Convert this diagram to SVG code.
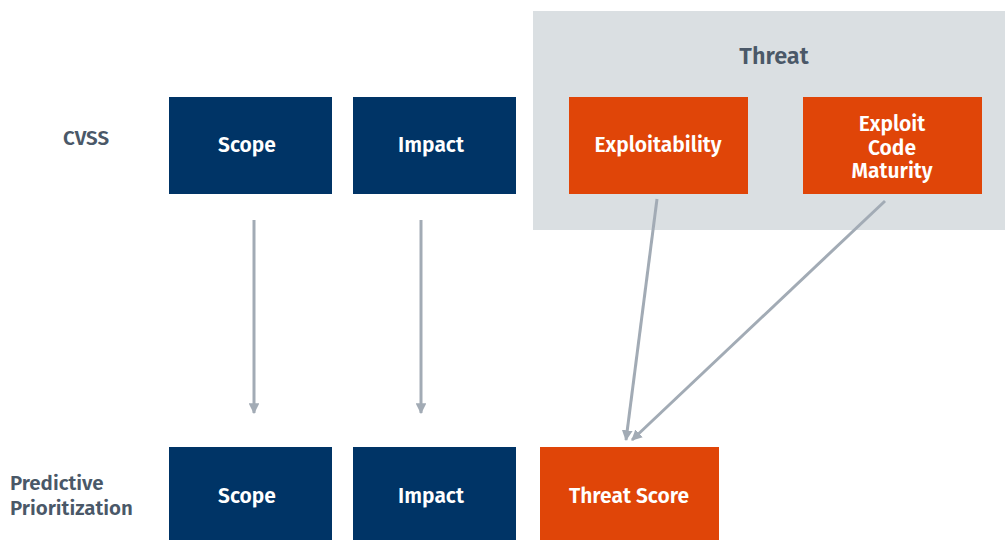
<svg xmlns="http://www.w3.org/2000/svg" width="1005" height="540" viewBox="0 0 1005 540">
<defs>
<style>
.navy{fill:#003466}
.orange{fill:#e04508}
.lbl{font-family:"Fira Sans","Open Sans","Noto Sans",sans-serif;font-weight:600;font-size:21px;fill:#ffffff;text-anchor:middle}
.side{font-family:"Fira Sans","Open Sans","Noto Sans",sans-serif;font-weight:600;font-size:20.5px;fill:#4a5868}
.conn{stroke:#a2abb5;stroke-width:3;fill:none}
</style>
<marker id="ah" viewBox="0 0 10 10" refX="9" refY="5" markerWidth="3.6" markerHeight="3.6" orient="auto" markerUnits="strokeWidth">
<path d="M0,0 L10,5 L0,10 z" fill="#a2abb5"/>
</marker>
</defs>
<rect width="1005" height="540" fill="#ffffff"/>
<g id="threat-group">
<rect x="533" y="11" width="472" height="219" fill="#dadfe2"/>
<text x="774" y="64" class="side" style="font-size:23.5px;text-anchor:middle">Threat</text>
</g>
<g id="label-cvss"><text x="63" y="145" class="side">CVSS</text></g>
<g id="label-pp"><text x="10" y="490" class="side">Predictive</text><text x="10" y="515" class="side">Prioritization</text></g>
<g id="cvss-scope"><rect x="169" y="97" width="163" height="97" class="navy"/><text x="247" y="152" class="lbl">Scope</text></g>
<g id="cvss-impact"><rect x="353" y="97" width="163" height="97" class="navy"/><text x="431" y="152" class="lbl">Impact</text></g>
<g id="exploitability"><rect x="569" y="97" width="179" height="97" class="orange"/><text x="658" y="152" class="lbl">Exploitability</text></g>
<g id="exploit-code-maturity"><rect x="803" y="97" width="179" height="97" class="orange"/><text x="892" y="131" class="lbl">Exploit</text><text x="892" y="154.5" class="lbl">Code</text><text x="892" y="178" class="lbl">Maturity</text></g>
<g id="pp-scope"><rect x="169" y="447" width="163" height="93" class="navy"/><text x="247" y="503" class="lbl">Scope</text></g>
<g id="pp-impact"><rect x="353" y="447" width="163" height="93" class="navy"/><text x="431" y="503" class="lbl">Impact</text></g>
<g id="threat-score"><rect x="540" y="447" width="179" height="93" class="orange"/><text x="629" y="503" class="lbl">Threat Score</text></g>
<g id="connectors">
<line x1="254" y1="220" x2="254" y2="413" class="conn" marker-end="url(#ah)"/>
<line x1="421" y1="220" x2="421" y2="413" class="conn" marker-end="url(#ah)"/>
<line x1="657" y1="199" x2="626" y2="440" class="conn" marker-end="url(#ah)"/>
<line x1="885" y1="201" x2="632" y2="440" class="conn" marker-end="url(#ah)"/>
</g>
</svg>
